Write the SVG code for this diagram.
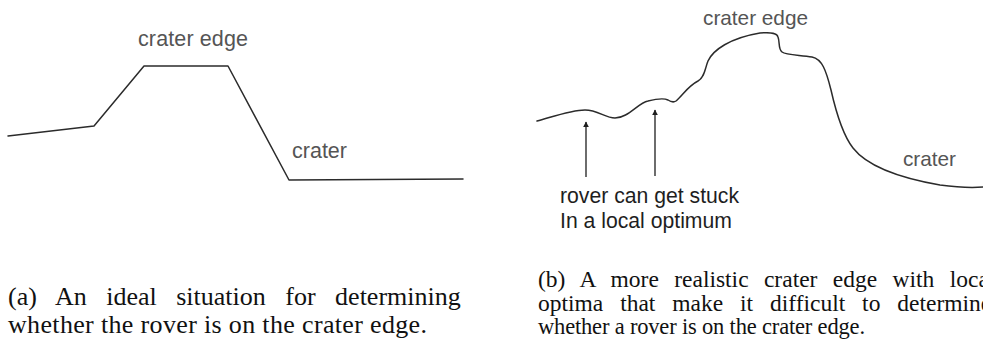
<svg xmlns="http://www.w3.org/2000/svg" width="983" height="351" viewBox="0 0 983 351">
<style>
.line{fill:none;stroke:#2b2b2b;stroke-width:1.5;stroke-linejoin:round;stroke-linecap:round}
.lbl{font-family:"Liberation Sans",Arial,sans-serif;fill:#555}
.note{font-family:"Liberation Sans",Arial,sans-serif;fill:#1e1e1e}
.cap{font-family:"Liberation Serif","Times New Roman",serif;fill:#111}
.arrow{stroke:#1e1e1e;stroke-width:1.3;fill:none}
</style>
<defs>
<marker id="ah" viewBox="0 0 10 10" refX="9" refY="5" markerWidth="6" markerHeight="7" markerUnits="userSpaceOnUse" orient="auto">
<path d="M0,0 L10,5 L0,10 z" fill="#1e1e1e"/>
</marker>
</defs>
<rect width="983" height="351" fill="#fff"/>
<g id="ideal-profile">
<polyline class="line" points="8,136 94,126 144,66 228,66 289,180 463,179"/>
<text class="lbl" x="138" y="46" font-size="21.5" textLength="110">crater edge</text>
<text class="lbl" x="292" y="158" font-size="21.5" textLength="55">crater</text>
</g>
<g id="realistic-profile">
<path class="line" d="M537,121 C555,116 572,110 585,110 C598,110 605,118 615,118 C628,118 638,103 648,101 C656,99 664,98 668,100 C671,102 673,103 676,101 C682,96 688,86 698,81 C705,77 705,68 708,61 C713,50 730,38 760,33 C772,32 777,33 778,37 C780,42 778,49 782,52 C786,55 800,55 812,57 C822,59 826,70 831,90 C836,112 842,134 853,148 C867,166 900,178 940,185 C955,187 970,188 983,187"/>
<text class="lbl" x="703" y="25" font-size="20.8" textLength="105">crater edge</text>
<text class="lbl" x="903" y="166" font-size="20.8" textLength="53">crater</text>
</g>
<g id="connectors">
<line class="arrow" x1="586" y1="177" x2="586" y2="122" marker-end="url(#ah)"/>
<line class="arrow" x1="655" y1="176" x2="655" y2="110" marker-end="url(#ah)"/>
</g>
<g id="stuck-note">
<text class="note" x="560" y="203" font-size="21.2" textLength="179">rover can get stuck</text>
<text class="note" x="560" y="228" font-size="21.2">In a local optimum</text>
</g>
<g id="caption-a">
<text class="cap" x="8" y="305" font-size="26" word-spacing="13">(a) An ideal situation for determining</text>
<text class="cap" x="8" y="333" font-size="26" textLength="419">whether the rover is on the crater edge.</text>
</g>
<g id="caption-b">
<text class="cap" x="538" y="287" font-size="23.5" word-spacing="9.5">(b) A more realistic crater edge with local</text>
<text class="cap" x="538" y="311" font-size="23.5" word-spacing="11">optima that make it difficult to determine</text>
<text class="cap" x="538" y="334" font-size="22.5" textLength="327">whether a rover is on the crater edge.</text>
</g>
</svg>
